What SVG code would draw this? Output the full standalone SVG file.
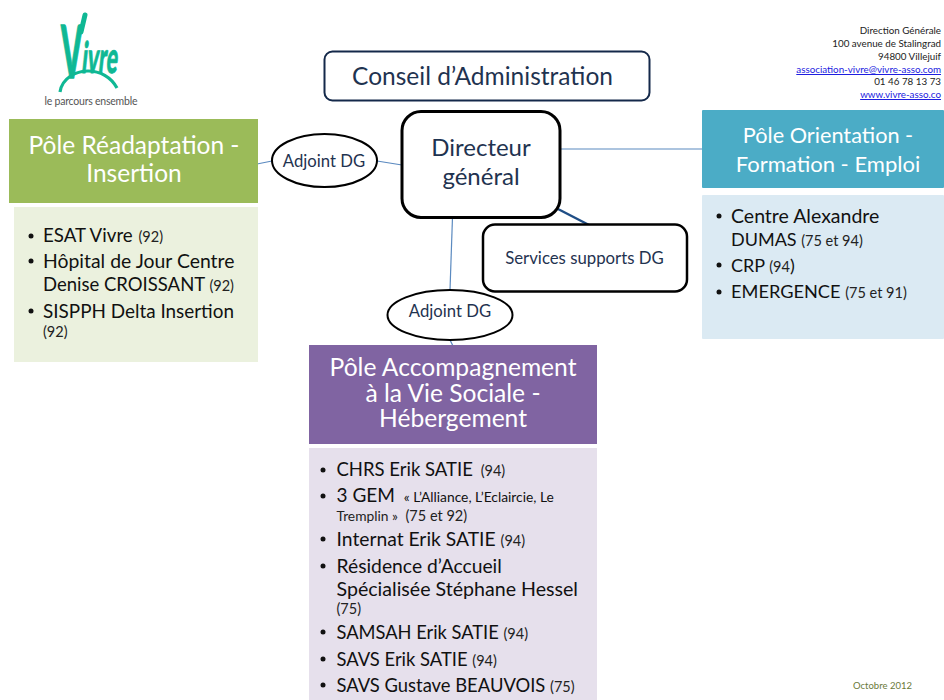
<svg xmlns="http://www.w3.org/2000/svg" width="944" height="700" viewBox="0 0 944 700">
<style>
text{font-family:Lato,"Open Sans","Liberation Sans",sans-serif}
.n{fill:#1f3350}
.w{fill:#fff;text-anchor:middle}
.b{fill:#111}
.s{fill:#222;font-size:14.500px}
.a{fill:#222;font-size:9.800px;text-anchor:end}
.l{fill:#1a1ae0;font-size:9.800px;text-anchor:end;text-decoration:underline}
.box{fill:#fff;stroke:#000}
.c{stroke:#5b8ac0;stroke-width:1.2;fill:none}
.d{fill:#111}
</style>
<rect width="944" height="700" fill="#fff"/>
<g id="logo" fill="#0fb894" stroke="#0fb894">
<text transform="translate(61 78) scale(0.85 2)" font-size="36" font-weight="900" stroke-width="0.7">V</text>
<path d="M81 32L85 15" fill="none" stroke-width="5" stroke-linecap="round"/>
<text transform="translate(81 73) skewX(-6) scale(0.68 1.4)" font-size="31" font-weight="900" stroke-width="0.6">ivre</text>
<path d="M60 92C62 78 76 71 88 71C100 71 111 77 117 88" fill="none" stroke-width="3.2"/>
<text x="44.500" y="105" font-size="10.500" fill="#555" stroke="none" textLength="93">le parcours ensemble</text>
</g>
<g id="connectors">
<line class="c" x1="257" y1="164" x2="272" y2="161"/>
<line class="c" x1="377" y1="161" x2="402" y2="165"/>
<line class="c" x1="559" y1="149" x2="703" y2="149"/>
<line class="c" x1="452.500" y1="217" x2="450" y2="290"/>
<line class="c" x1="450" y1="340" x2="453" y2="346"/>
<line x1="558" y1="209" x2="589" y2="225" stroke="#1f4e86" stroke-width="2.500"/>
</g>
<g id="conseil">
<rect class="box" x="324.500" y="51.500" width="325" height="49" rx="8" style="stroke:#14294a;stroke-width:2"/>
<text class="n" x="482.500" y="85" text-anchor="middle" font-size="24.500">Conseil d’Administration</text>
</g>
<g id="directeur">
<rect class="box" x="402" y="111.500" width="158" height="106" rx="19" stroke-width="3"/>
<text class="n" x="481" y="156" text-anchor="middle" font-size="24">Directeur</text>
<text class="n" x="481" y="185" text-anchor="middle" font-size="24">général</text>
</g>
<g id="adjoint-1">
<ellipse class="box" cx="324.500" cy="160.500" rx="52.500" ry="26.500" stroke-width="2"/>
<text class="n" x="324" y="166.500" text-anchor="middle" font-size="16.700">Adjoint DG</text>
</g>
<g id="adjoint-2">
<ellipse class="box" cx="450" cy="315" rx="62.500" ry="25" stroke-width="2"/>
<text class="n" x="450" y="316.500" text-anchor="middle" font-size="16.700">Adjoint DG</text>
</g>
<g id="services">
<rect class="box" x="483" y="224.500" width="204" height="67" rx="12" stroke-width="2.500"/>
<text class="n" x="584.500" y="264" text-anchor="middle" font-size="16.800">Services supports DG</text>
</g>
<g id="pole-readaptation">
<rect x="9" y="119" width="249" height="84" fill="#9bbb59"/>
<text class="w" font-size="24.500" x="134" y="154">Pôle Réadaptation -</text>
<text class="w" font-size="24.500" x="134" y="182">Insertion</text>
<rect x="14" y="207" width="244" height="155" fill="#ebf1de"/>
<circle class="d" cx="31" cy="236" r="2.500"/>
<text class="b" font-size="18.700" x="43" y="242">ESAT Vivre <tspan class="s" dx="1">(92)</tspan></text>
<circle class="d" cx="31" cy="261" r="2.500"/>
<text class="b" font-size="19.400" x="43" y="268">Hôpital de Jour Centre</text>
<text class="b" font-size="18.500" x="43" y="291">Denise CROISSANT <tspan class="s">(92)</tspan></text>
<circle class="d" cx="31" cy="311" r="2.500"/>
<text class="b" font-size="18.900" x="43" y="318">SISPPH Delta Insertion</text>
<text class="s" x="43" y="337">(92)</text>
</g>
<g id="pole-orientation">
<rect x="702" y="110" width="242" height="78" rx="1" fill="#4bacc6"/>
<text class="w" font-size="21.700" x="828" y="143">Pôle Orientation -</text>
<text class="w" font-size="22" x="828" y="172">Formation - Emploi</text>
<rect x="702" y="195" width="242" height="144" rx="1" fill="#dbeaf3"/>
<circle class="d" cx="719" cy="216" r="2.500"/>
<text class="b" font-size="19.500" x="731" y="223">Centre Alexandre</text>
<text class="b" font-size="18" x="731" y="246">DUMAS <tspan class="s">(75 et 94)</tspan></text>
<circle class="d" cx="719" cy="265" r="2.500"/>
<text class="b" font-size="18" x="731" y="272">CRP <tspan class="s">(94</tspan>)</text>
<circle class="d" cx="719" cy="292" r="2.500"/>
<text class="b" font-size="18.200" x="731" y="298">EMERGENCE <tspan class="s">(75 et 91)</tspan></text>
</g>
<g id="pole-accompagnement">
<rect x="309" y="345" width="288" height="99" fill="#8064a2"/>
<text class="w" font-size="24.600" x="453" y="376">Pôle Accompagnement</text>
<text class="w" font-size="24.600" x="453" y="402">à la Vie Sociale -</text>
<text class="w" font-size="24.600" x="453" y="427">Hébergement</text>
<rect x="309" y="448" width="288" height="252" fill="#e6e0ec"/>
<circle class="d" cx="323" cy="470" r="2.500"/>
<text class="b" font-size="18.500" x="336.500" y="476">CHRS Erik SATIE <tspan class="s" dx="3">(94)</tspan></text>
<circle class="d" cx="323" cy="496" r="2.500"/>
<text class="b" font-size="19" x="336.500" y="502">3 GEM <tspan font-size="13.800" dx="4">« L’Alliance, L’Eclaircie, Le</tspan></text>
<text x="336.500" y="521" fill="#222" font-size="13.800">Tremplin » <tspan font-size="14.500" dx="4">(75 et 92)</tspan></text>
<circle class="d" cx="323" cy="539" r="2.500"/>
<text class="b" font-size="19.300" x="336.500" y="546">Internat Erik SATIE <tspan class="s">(94)</tspan></text>
<circle class="d" cx="323" cy="566" r="2.500"/>
<text class="b" font-size="19.300" x="336.500" y="573">Résidence d’Accueil</text>
<text class="b" font-size="19.600" x="336.500" y="596">Spécialisée Stéphane Hessel</text>
<text class="s" x="336.500" y="614">(75)</text>
<circle class="d" cx="323" cy="632" r="2.500"/>
<text class="b" font-size="18.300" x="336.500" y="639">SAMSAH Erik SATIE <tspan class="s">(94)</tspan></text>
<circle class="d" cx="323" cy="659" r="2.500"/>
<text class="b" font-size="18.400" x="336.500" y="666">SAVS Erik SATIE <tspan class="s">(94)</tspan></text>
<circle class="d" cx="323" cy="685" r="2.500"/>
<text class="b" font-size="18.400" x="336.500" y="692">SAVS Gustave BEAUVOIS <tspan class="s">(75)</tspan></text>
</g>
<g id="adresse">
<text class="a" x="941" y="34">Direction Générale</text>
<text class="a" x="941" y="47">100 avenue de Stalingrad</text>
<text class="a" x="941" y="60">94800 Villejuif</text>
<text class="l" x="941" y="73">association-vivre@vivre-asso.com</text>
<text class="a" x="941" y="85">01 46 78 13 73</text>
<text class="l" x="941" y="98">www.vivre-asso.co</text>
</g>
<text x="853" y="689" font-size="9.500" fill="#6b7a3a">Octobre 2012</text>
</svg>
